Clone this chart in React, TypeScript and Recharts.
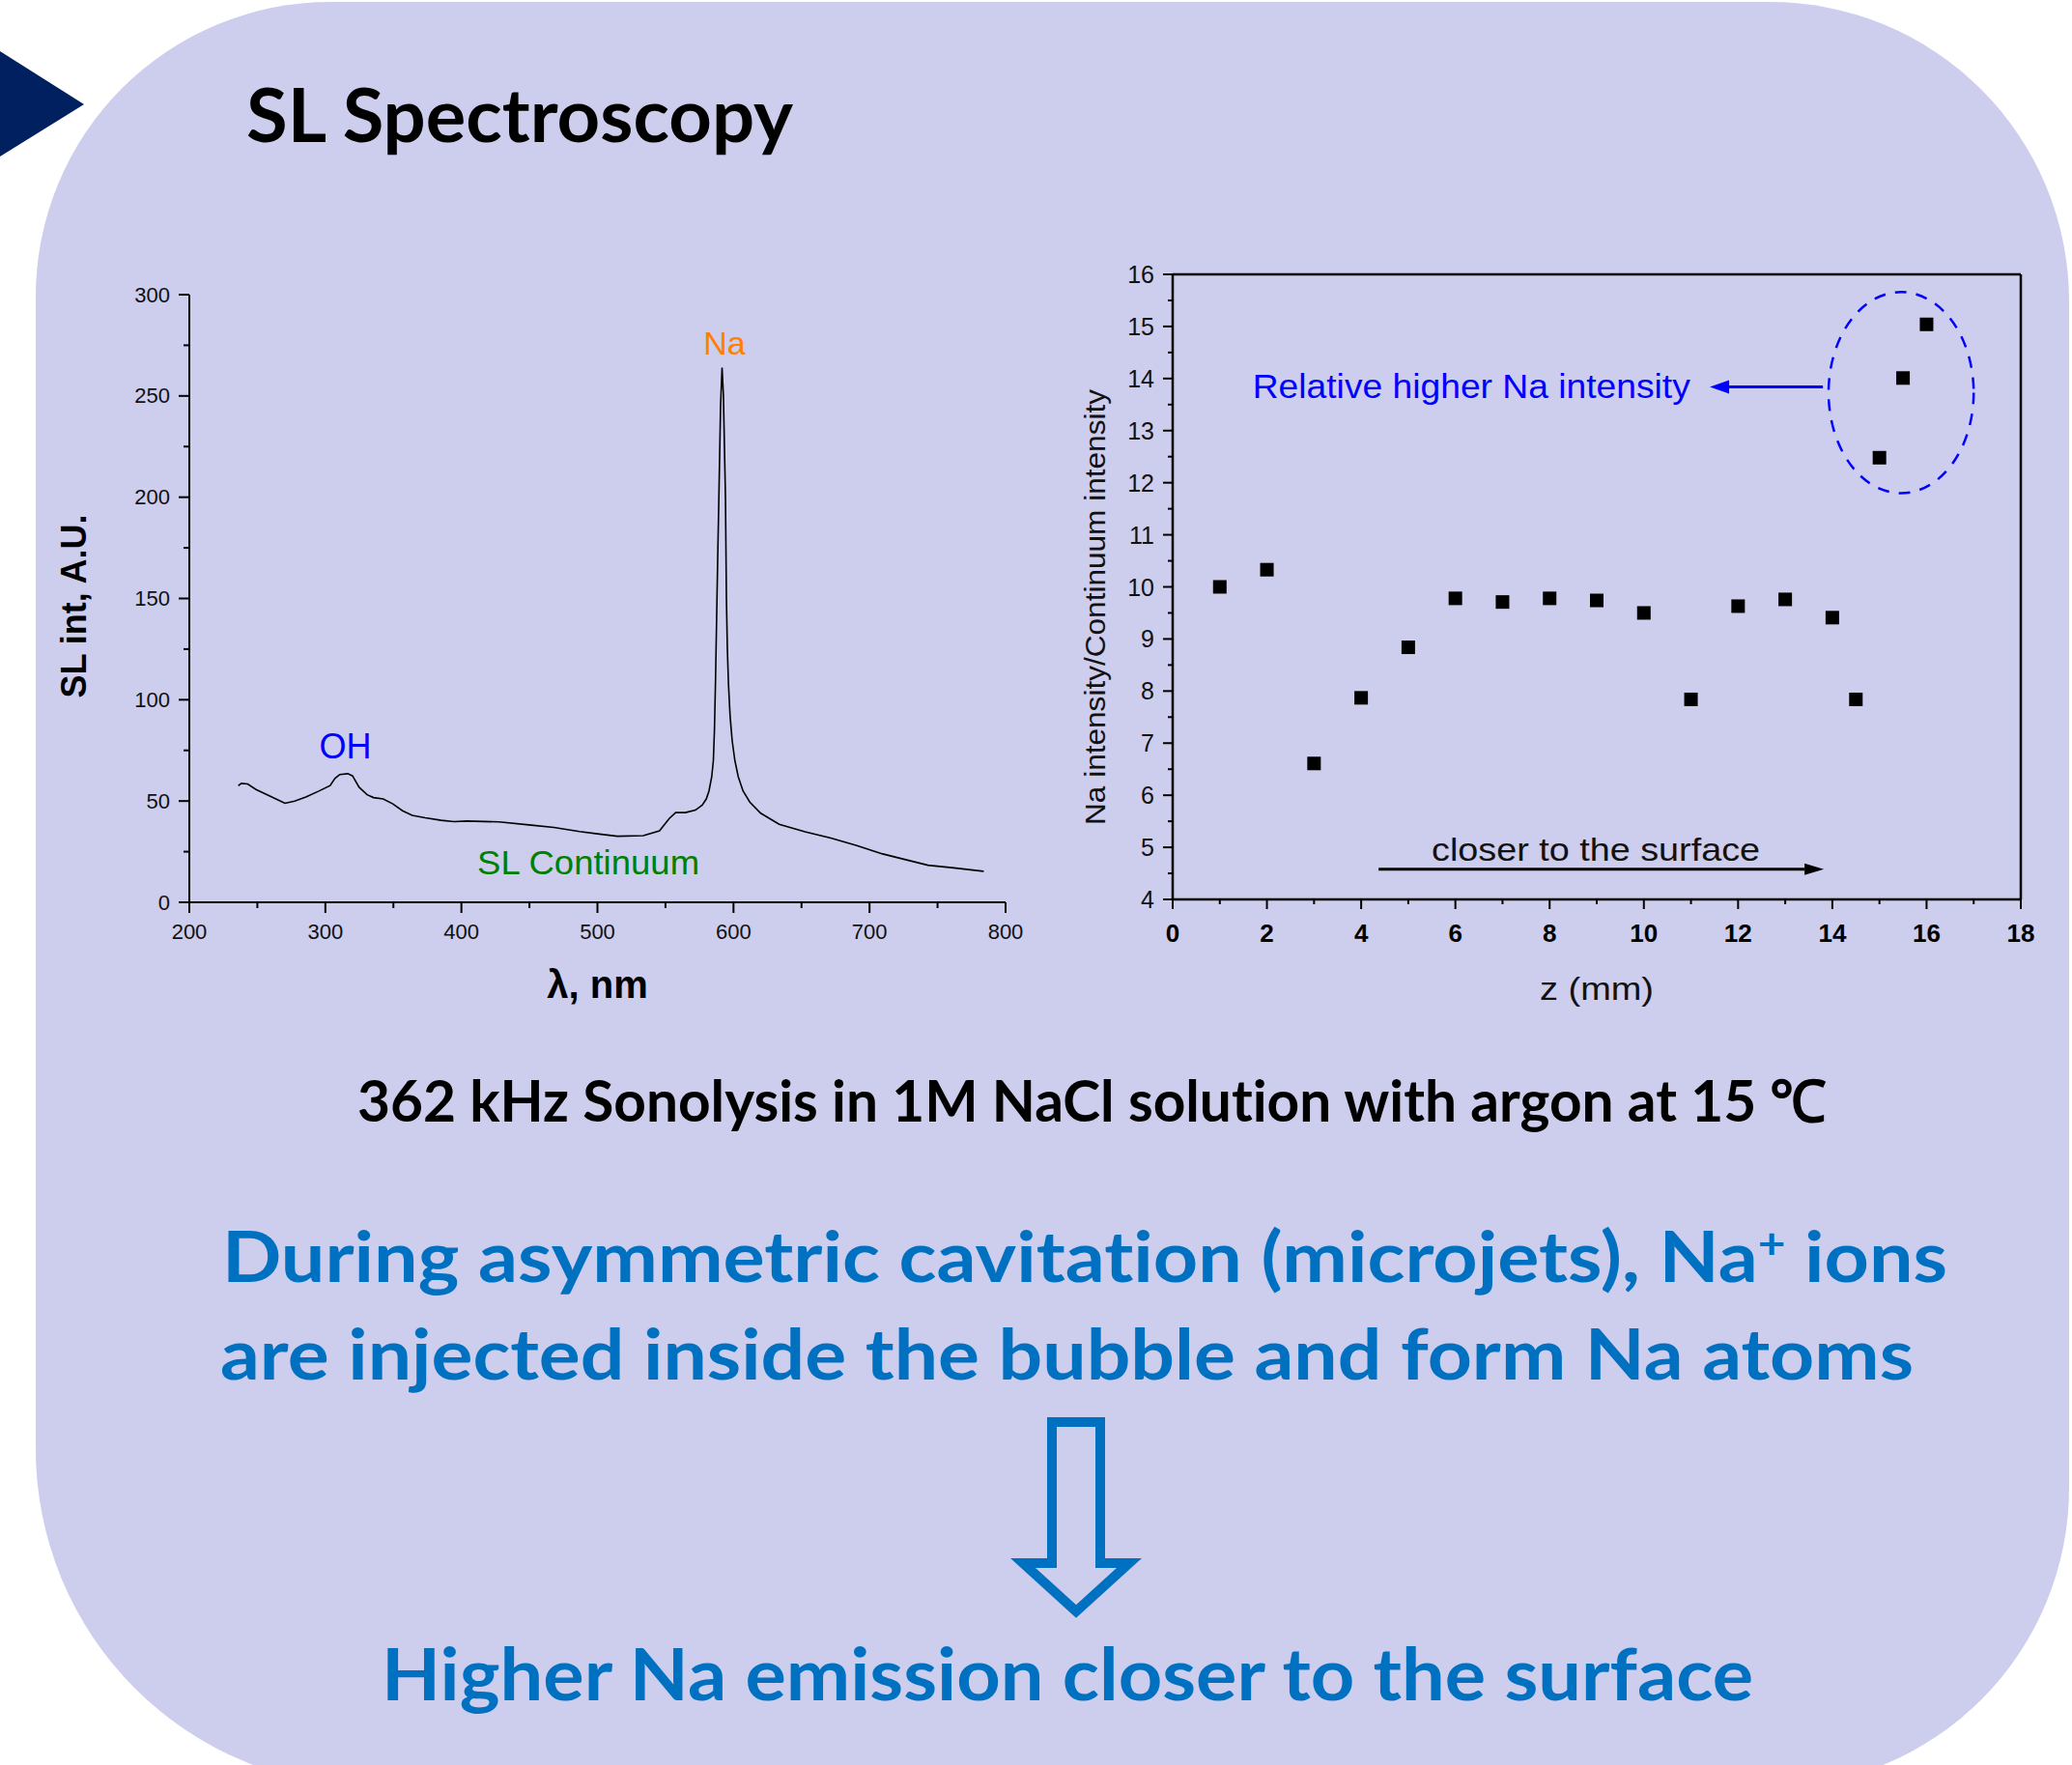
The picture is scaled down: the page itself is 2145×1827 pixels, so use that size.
import React from "react";
import {
  LineChart,
  Line,
  ScatterChart,
  Scatter,
  XAxis,
  YAxis,
  ReferenceDot,
  ReferenceLine,
  ReferenceArea,
} from "recharts";

// spectrum
const wavelengths = [
  236, 238.3, 242.9, 249, 257.3, 264.4, 270.3, 277.4, 285.7, 295.2, 303.5, 307, 310.6, 316.5, 320, 324.8,
  330.7, 335.4, 342.5, 349.6, 356.7, 363.8, 373.3, 385.1, 394.6, 404, 427.7, 451.4, 468, 486.9, 500,
  514.7, 533.7, 545.6, 552.8, 557.5, 564.6, 572, 577, 580, 582, 584, 585.2, 586, 586.8, 587.6, 588.4,
  589.4, 590.5, 591.6, 592.6, 593.5, 594.1, 594.8, 595.5, 596.3, 597.5, 599, 601, 603.5, 607, 612, 620,
  633.6, 652.6, 671.6, 690.6, 709.6, 728.7, 743, 762, 784,
];
const slIntensity = [
  57.6, 58.7, 58.4, 55.7, 53.1, 50.8, 48.9, 50, 52, 54.9, 57.6, 61.1, 63.1, 63.5, 62.4, 56.8,
  53.1, 51.7, 51, 48.6, 45.2, 42.9, 41.7, 40.5, 39.8, 40.1, 39.7, 38.1, 37, 34.9, 33.8,
  32.6, 32.9, 35.3, 41.4, 44.3, 44.3, 45.5, 48, 51, 55, 62, 70, 85, 110, 140, 170,
  205, 245, 264, 250, 220, 200, 150, 125, 108, 92, 80, 70, 62, 55, 49.5, 44,
  38.5, 34.8, 31.7, 28, 23.9, 20.7, 18.3, 17, 15.3,
];

// Na / continuum ratio
const zPositions = [1, 2, 3, 4, 5, 6, 7, 8, 9, 10, 11, 12, 13, 14, 14.5, 15, 15.5, 16];
const naRatio = [10.0, 10.33, 6.61, 7.87, 8.84, 9.78, 9.71, 9.78, 9.74, 9.5, 7.84, 9.63, 9.76, 9.41, 7.84, 12.48, 14.01, 15.04];

const wlTicks = [200, 250, 300, 350, 400, 450, 500, 550, 600, 650, 700, 750, 800];
const slTicks = [0, 25, 50, 75, 100, 125, 150, 175, 200, 225, 250, 275, 300];
const zTicks = [0, 1, 2, 3, 4, 5, 6, 7, 8, 9, 10, 11, 12, 13, 14, 15, 16, 17, 18];
const ratioTicks = [4, 4.5, 5, 5.5, 6, 6.5, 7, 7.5, 8, 8.5, 9, 9.5, 10, 10.5, 11, 11.5, 12, 12.5, 13, 13.5, 14, 14.5, 15, 15.5, 16];

const spectrum = wavelengths.map((wl, i) => ({ wl, sl: slIntensity[i] }));
const ratioData = zPositions.map((z, i) => ({ z, r: naRatio[i] }));

const ARIAL = '"Liberation Sans", Arial, sans-serif';
const CALIBRI = 'Lato, "Open Sans", sans-serif';
const noLig = { fontVariantLigatures: "none" as const };

function WlTick({ x, y, payload }: any) {
  const major = payload.value % 100 === 0;
  return (
    <g>
      <line x1={x} y1={y} x2={x} y2={y + (major ? 11 : 6)} stroke="#000" strokeWidth={2} />
      {major && (
        <text x={x} y={y + 30} textAnchor="middle" dominantBaseline="central" fontFamily={ARIAL} fontSize={22} fill="#111">
          {payload.value}
        </text>
      )}
    </g>
  );
}

function SlTick({ x, y, payload }: any) {
  const major = payload.value % 50 === 0;
  return (
    <g>
      <line x1={x} y1={y} x2={x - (major ? 11 : 6)} y2={y} stroke="#000" strokeWidth={2} />
      {major && (
        <text x={x - 20} y={y} textAnchor="end" dominantBaseline="central" fontFamily={ARIAL} fontSize={22} fill="#111">
          {payload.value}
        </text>
      )}
    </g>
  );
}

function ZTick({ x, y, payload }: any) {
  const major = payload.value % 2 === 0;
  return (
    <g>
      <line x1={x} y1={y} x2={x} y2={y + (major ? 10 : 5)} stroke="#000" strokeWidth={2} />
      {major && (
        <text x={x} y={y + 35} textAnchor="middle" dominantBaseline="central" fontFamily={ARIAL} fontWeight={700} fontSize={26} fill="#000">
          {payload.value}
        </text>
      )}
    </g>
  );
}

function RatioTick({ x, y, payload }: any) {
  const major = Number.isInteger(payload.value);
  return (
    <g>
      <line x1={x} y1={y} x2={x - (major ? 10 : 5)} y2={y} stroke="#000" strokeWidth={2} />
      {major && (
        <text x={x - 19} y={y} textAnchor="end" dominantBaseline="central" fontFamily={ARIAL} fontSize={25} fill="#111">
          {payload.value}
        </text>
      )}
    </g>
  );
}

const slYLabel = (p: any) => {
  const vb = p.viewBox;
  const cx = vb.x + 76;
  const cy = vb.y + vb.height / 2 + 8;
  return (
    <text x={cx} y={cy} transform={`rotate(-90 ${cx} ${cy})`} textAnchor="middle" dominantBaseline="central" fontFamily={ARIAL} fontWeight={700} fontSize={36} fill="#000">
      SL int, A.U.
    </text>
  );
};

const wlXLabel = (p: any) => {
  const vb = p.viewBox;
  return (
    <text x={vb.x + vb.width / 2} y={vb.y + 85} textAnchor="middle" dominantBaseline="central" fontFamily={ARIAL} fontWeight={700} fontSize={40} fill="#000">
      λ, nm
    </text>
  );
};

const ratioYLabel = (p: any) => {
  const vb = p.viewBox;
  const cx = vb.x + 33;
  const cy = vb.y + vb.height / 2 + 21;
  return (
    <text x={cx} y={cy} transform={`rotate(-90 ${cx} ${cy})`} textAnchor="middle" dominantBaseline="central" fontFamily={ARIAL} fontSize={30} fill="#111" textLength={451} lengthAdjust="spacingAndGlyphs">
      Na intensity/Continuum intensity
    </text>
  );
};

const zXLabel = (p: any) => {
  const vb = p.viewBox;
  return (
    <text x={vb.x + vb.width / 2} y={vb.y + 92} textAnchor="middle" dominantBaseline="central" fontFamily={ARIAL} fontSize={34} fill="#111" textLength={118} lengthAdjust="spacingAndGlyphs">
      z (mm)
    </text>
  );
};

const textShape = (text: string, color: string, size: number, width?: number) => (p: any) => (
  <text
    x={p.cx}
    y={p.cy}
    textAnchor="middle"
    dominantBaseline="central"
    fontFamily={ARIAL}
    fontSize={size}
    fill={color}
    textLength={width}
    lengthAdjust={width ? "spacingAndGlyphs" : undefined}
  >
    {text}
  </text>
);

const arrowShape = (color: string, head: number, half: number) => (p: any) => {
  const { x1, y1, x2, y2 } = p;
  const ang = Math.atan2(y2 - y1, x2 - x1);
  const bx = x2 - head * Math.cos(ang);
  const by = y2 - head * Math.sin(ang);
  const nx = -Math.sin(ang) * half;
  const ny = Math.cos(ang) * half;
  return (
    <g>
      <line x1={x1} y1={y1} x2={bx} y2={by} stroke={color} strokeWidth={3} />
      <polygon points={`${x2},${y2} ${bx + nx},${by + ny} ${bx - nx},${by - ny}`} fill={color} />
    </g>
  );
};

const ellipseShape = (p: any) => (
  <ellipse
    cx={p.x + p.width / 2}
    cy={p.y + p.height / 2}
    rx={p.width / 2}
    ry={p.height / 2}
    fill="none"
    stroke="#0000ff"
    strokeWidth={2.5}
    strokeDasharray="12 10"
  />
);

const squareShape = (p: any) => <rect x={p.cx - 7} y={p.cy - 7} width={14} height={14} fill="#000" />;

export default function App() {
  return (
    <div style={{ position: "absolute", left: 0, top: 0, width: 2145, height: 1827, background: "#fff", overflow: "hidden" }}>
      <svg width={2145} height={1827} style={{ position: "absolute", left: 0, top: 0 }}>
        <path
          d="M 342 2 H 1832 A 310 310 0 0 1 2142 312 V 1540 A 310 310 0 0 1 1832 1850 H 387 A 350 350 0 0 1 37 1500 V 307 A 305 305 0 0 1 342 2 Z"
          fill="#cdcdee"
        />
        <polygon points="0,53 87,108 0,162" fill="#002060" />
        <text x={255} y={147} style={noLig} fontFamily={CALIBRI} fontWeight={700} fontSize={77} fill="#000" textLength={566} lengthAdjust="spacingAndGlyphs">
          SL Spectroscopy
        </text>
        <text x={370} y={1161} style={noLig} fontFamily={CALIBRI} fontWeight={700} fontSize={60} fill="#000" textLength={1521} lengthAdjust="spacingAndGlyphs">
          362 kHz Sonolysis in 1M NaCl solution with argon at 15 ℃
        </text>
        <text x={230} y={1327} style={noLig} fontFamily={CALIBRI} fontWeight={700} fontSize={72} fill="#0070c0" textLength={1786} lengthAdjust="spacingAndGlyphs">
          During asymmetric cavitation (microjets), Na
          <tspan dy={-24} fontSize={44}>+</tspan>
          <tspan dy={24}> ions</tspan>
        </text>
        <text x={228} y={1428} style={noLig} fontFamily={CALIBRI} fontWeight={700} fontSize={72} fill="#0070c0" textLength={1753} lengthAdjust="spacingAndGlyphs">
          are injected inside the bubble and form Na atoms
        </text>
        <polygon
          points="1089,1472 1139,1472 1139,1618 1169,1618 1114,1668 1059,1618 1089,1618"
          fill="none"
          stroke="#0070c0"
          strokeWidth={10}
        />
        <text x={395} y={1760} style={noLig} fontFamily={CALIBRI} fontWeight={700} fontSize={74} fill="#0070c0" textLength={1420} lengthAdjust="spacingAndGlyphs">
          Higher Na emission closer to the surface
        </text>
      </svg>

      <div style={{ position: "absolute", left: 0, top: 240, fontFamily: ARIAL }}>
        <LineChart width={1100} height={830} data={spectrum} margin={{ top: 65, right: 59, bottom: 0, left: 0 }}>
          <XAxis
            dataKey="wl"
            type="number"
            domain={[200, 800]}
            ticks={wlTicks}
            interval={0}
            tick={<WlTick />}
            tickLine={false}
            tickSize={0}
            tickMargin={0}
            height={136}
            axisLine={{ stroke: "#000", strokeWidth: 2 }}
            label={wlXLabel}
          />
          <YAxis
            type="number"
            domain={[0, 300]}
            ticks={slTicks}
            interval={0}
            tick={<SlTick />}
            tickLine={false}
            tickSize={0}
            tickMargin={0}
            width={196}
            axisLine={{ stroke: "#000", strokeWidth: 2 }}
            label={slYLabel}
          />
          <Line type="linear" dataKey="sl" stroke="#000" strokeWidth={1.6} dot={false} isAnimationActive={false} />
          <ReferenceDot x={593.4} y={276} r={0} shape={textShape("Na", "#ff8000", 34)} />
          <ReferenceDot x={314.7} y={77} r={0} shape={textShape("OH", "#0000ff", 36)} />
          <ReferenceDot x={493.3} y={19.7} r={0} shape={textShape("SL Continuum", "#008000", 35, 230)} />
        </LineChart>
      </div>

      <div style={{ position: "absolute", left: 1100, top: 240, fontFamily: ARIAL }}>
        <ScatterChart width={1045} height={830} margin={{ top: 44, right: 52, bottom: 0, left: 0 }}>
          <XAxis
            dataKey="z"
            type="number"
            domain={[0, 18]}
            ticks={zTicks}
            interval={0}
            tick={<ZTick />}
            tickLine={false}
            tickSize={0}
            tickMargin={0}
            height={139}
            axisLine={{ stroke: "#000", strokeWidth: 2.5 }}
            label={zXLabel}
          />
          <XAxis
            xAxisId="top"
            orientation="top"
            type="number"
            domain={[0, 18]}
            ticks={zTicks}
            interval={0}
            tick={false}
            mirror
            tickSize={5}
            height={1}
            axisLine={{ stroke: "#000", strokeWidth: 2.5 }}
            tickLine={{ stroke: "#000", strokeWidth: 1.5 }}
          />
          <YAxis
            dataKey="r"
            type="number"
            domain={[4, 16]}
            ticks={ratioTicks}
            interval={0}
            tick={<RatioTick />}
            tickLine={false}
            tickSize={0}
            tickMargin={0}
            width={114}
            axisLine={{ stroke: "#000", strokeWidth: 2.5 }}
            label={ratioYLabel}
          />
          <YAxis
            yAxisId="right"
            orientation="right"
            type="number"
            domain={[4, 16]}
            tick={false}
            tickLine={false}
            width={1}
            axisLine={{ stroke: "#000", strokeWidth: 2.5 }}
          />
          <Scatter data={ratioData} fill="#000" shape={squareShape} isAnimationActive={false} />
          <ReferenceArea x1={13.92} x2={17.0} y1={11.8} y2={15.66} shape={ellipseShape} />
          <ReferenceLine
            segment={[
              { x: 13.8, y: 13.84 },
              { x: 11.4, y: 13.84 },
            ]}
            shape={arrowShape("#0000ff", 20, 7)}
          />
          <ReferenceDot x={6.34} y={13.85} r={0} shape={textShape("Relative higher Na intensity", "#0000ff", 35, 453)} />
          <ReferenceLine
            segment={[
              { x: 4.37, y: 4.58 },
              { x: 13.82, y: 4.58 },
            ]}
            shape={arrowShape("#000", 20, 6)}
          />
          <ReferenceDot x={8.98} y={4.97} r={0} shape={textShape("closer to the surface", "#111", 34, 340)} />
        </ScatterChart>
      </div>
    </div>
  );
}
